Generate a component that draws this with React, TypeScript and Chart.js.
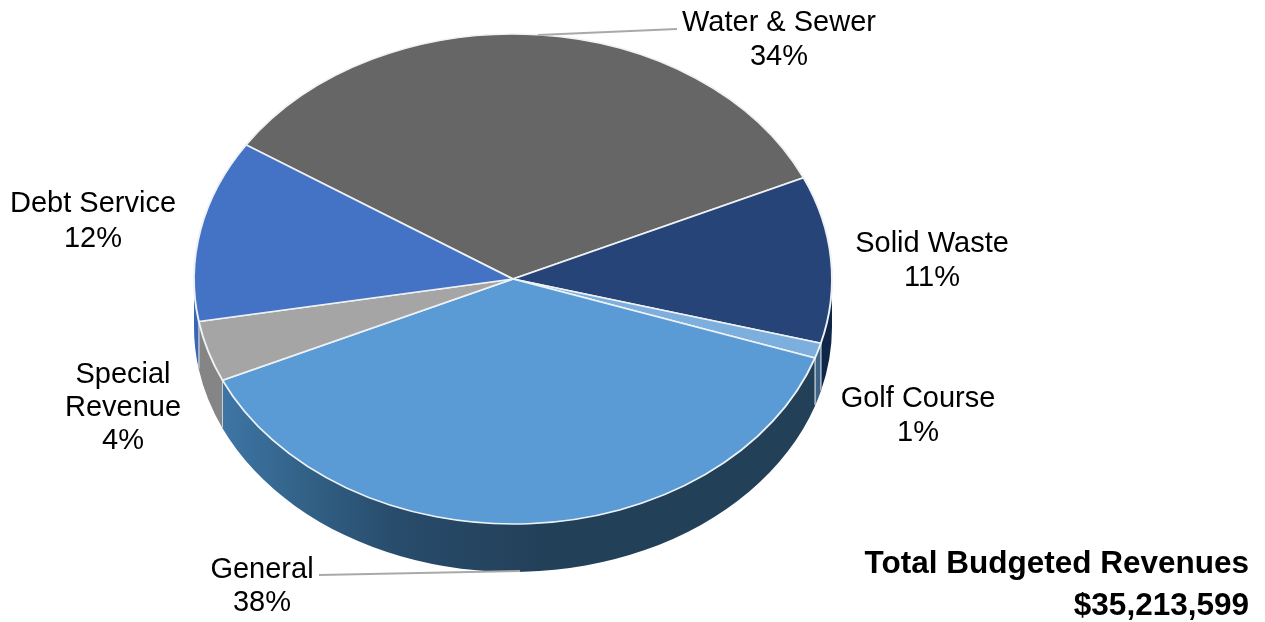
import React, { useEffect, useRef } from "react";
import { Chart, registerables } from "chart.js";

Chart.register(...registerables);

// Budget shares, in percent, clockwise from the top-left seam.
const categories = ["Water & Sewer", "Solid Waste", "Golf Course", "General", "Special Revenue", "Debt Service"];
const shares = [34, 11, 1, 38, 4, 12];
const faceColors = ["#666666", "#264478", "#7cafdd", "#5b9bd5", "#a5a5a5", "#4472c4"];
const wallColors = ["#4a4a4a", "#0f2648", "#3f6386", "#234059", "#858585", "#3a66b8"];
const totalTitle = "Total Budgeted Revenues";
const totalAmount = "$35,213,599";

// Disc geometry: the circle Chart.js lays out is squashed into this ellipse.
const RX = 319;
const RY = 245;
const DEPTH = 48;
const FONT = '"Liberation Sans", Arial, sans-serif';

// Label anchors: centre x, then the baseline of each wrapped line.
const labelLayout = [
  { x: 779, lines: ["Water & Sewer"], ys: [31, 65] },
  { x: 932, lines: ["Solid Waste"], ys: [252, 286] },
  { x: 918, lines: ["Golf Course"], ys: [407, 441] },
  { x: 262, lines: ["General"], ys: [578, 611] },
  { x: 123, lines: ["Special", "Revenue"], ys: [383, 416, 449] },
  { x: 93, lines: ["Debt Service"], ys: [212, 247] },
];

// Leader lines for the two labels sitting away from their slices.
const leaders = [
  [538, 35, 677, 29],
  [319, 575, 520, 571],
];

const generalWallGradient = (ctx: CanvasRenderingContext2D) => {
  const g = ctx.createLinearGradient(217, 0, 540, 0);
  g.addColorStop(0, "#3f77a8");
  g.addColorStop(0.25, "#336389");
  g.addColorStop(0.55, "#284c6c");
  g.addColorStop(1, "#234059");
  return g;
};

const pie3d = {
  id: "pie3d",
  beforeDatasetsDraw(chart: any) {
    const ctx: CanvasRenderingContext2D = chart.ctx;
    const arcs = chart.getDatasetMeta(0).data;
    const first = arcs[0];
    const { x: cx, y: cy, outerRadius } = first.getProps(["x", "y", "outerRadius"], true);

    // Side wall: only the part of each slice facing the viewer.
    arcs.forEach((arc: any, i: number) => {
      const { startAngle, endAngle } = arc.getProps(["startAngle", "endAngle"], true);
      const twoPi = Math.PI * 2;
      for (const shift of [0, twoPi, -twoPi]) {
        const a0 = Math.max(startAngle + shift, 0);
        const a1 = Math.min(endAngle + shift, Math.PI);
        if (a1 <= a0) continue;
        ctx.beginPath();
        ctx.ellipse(cx, cy, RX, RY, 0, a0, a1);
        ctx.ellipse(cx, cy + DEPTH, RX, RY, 0, a1, a0, true);
        ctx.closePath();
        ctx.fillStyle = categories[i] === "General" ? generalWallGradient(ctx) : wallColors[i];
        ctx.fill();
        // Pale seams where neighbouring walls meet.
        ctx.strokeStyle = "#c9d3dc";
        ctx.lineWidth = 1;
        for (const a of [a0, a1]) {
          if (a <= 0 || a >= Math.PI) continue;
          const sx = cx + RX * Math.cos(a);
          const sy = cy + RY * Math.sin(a);
          ctx.beginPath();
          ctx.moveTo(sx, sy);
          ctx.lineTo(sx, sy + DEPTH - 1);
          ctx.stroke();
        }
      }
    });

    // Squash the top face; restored once the slices are drawn.
    ctx.save();
    ctx.translate(cx, cy);
    ctx.scale(RX / outerRadius, RY / outerRadius);
    ctx.translate(-cx, -cy);
  },
  afterDatasetsDraw(chart: any) {
    const ctx: CanvasRenderingContext2D = chart.ctx;
    ctx.restore();

    ctx.strokeStyle = "#a9a9a9";
    ctx.lineWidth = 2;
    leaders.forEach(([x0, y0, x1, y1]) => {
      ctx.beginPath();
      ctx.moveTo(x0, y0);
      ctx.lineTo(x1, y1);
      ctx.stroke();
    });

    ctx.fillStyle = "#000000";
    ctx.textAlign = "center";
    ctx.textBaseline = "alphabetic";
    ctx.font = `29px ${FONT}`;
    labelLayout.forEach((label, i) => {
      [...label.lines, `${shares[i]}%`].forEach((line, j) => {
        ctx.fillText(line, label.x, label.ys[j]);
      });
    });

    ctx.textAlign = "right";
    ctx.font = `bold 31.5px ${FONT}`;
    ctx.fillText(totalTitle, 1249, 573);
    ctx.fillText(totalAmount, 1249, 615);
  },
};

export default function App() {
  const canvasRef = useRef<HTMLCanvasElement | null>(null);

  useEffect(() => {
    const chart = new Chart(canvasRef.current!, {
      type: "pie",
      data: {
        labels: categories,
        datasets: [
          {
            data: shares,
            backgroundColor: faceColors,
            borderColor: "#eef2f5",
            borderWidth: 1.5,
            clip: false,
          } as any,
        ],
      },
      options: {
        responsive: false,
        animation: false,
        rotation: -56.8,
        layout: { padding: { top: 34, bottom: 98, left: 268, right: 507 } },
        plugins: { legend: { display: false }, tooltip: { enabled: false } },
      },
      plugins: [pie3d],
    });
    return () => chart.destroy();
  }, []);

  return (
    <canvas
      ref={canvasRef}
      width={1265}
      height={622}
      style={{ position: "absolute", left: 0, top: 0, display: "block" }}
    />
  );
}
